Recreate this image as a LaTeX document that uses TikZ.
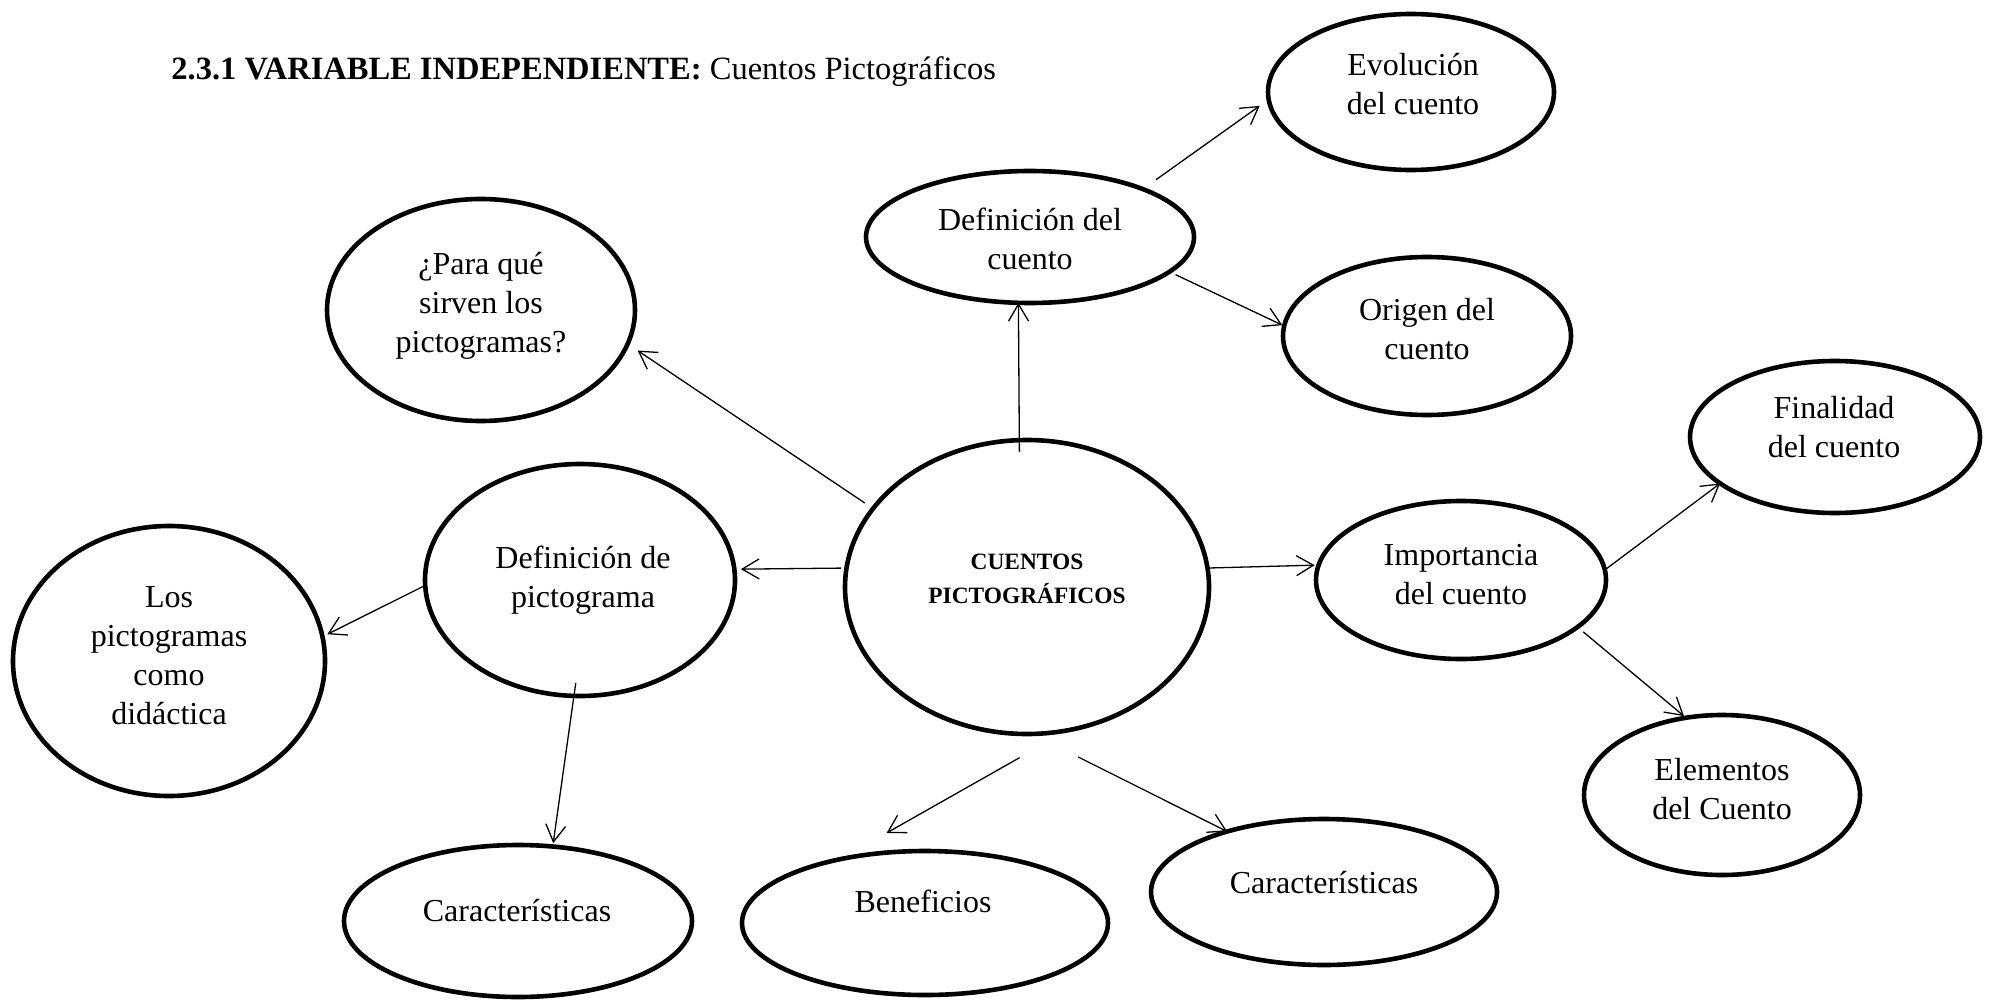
\documentclass[tikz,border=0pt]{standalone}
\usepackage{fontspec}
\setmainfont{Liberation Serif}
\usetikzlibrary{shapes.geometric,arrows.meta}
\tikzset{
  bubble/.style={draw, ellipse, line width=2.3pt, inner sep=0pt, outer sep=0pt},
  lbl/.style={inner sep=0pt, outer sep=0pt, font=\fontsize{16}{19.5}\selectfont},
  arr/.style={line width=0.65pt, -{Straight Barb[length=8.5pt,width=10pt]}}
}
\newcommand{\lines}[1]{\begin{tabular}[t]{@{}c@{}}#1\end{tabular}}
\begin{document}
\begin{tikzpicture}[x=0.5pt,y=-0.5pt]
\useasboundingbox (0,0) rectangle (1989,1000);
% ellipses
\node[bubble, minimum width=182pt, minimum height=147pt] (central) at (1027,587) {};
\node[bubble, minimum width=154pt, minimum height=111pt] (para) at (481,310) {};
\node[bubble, minimum width=164pt, minimum height=66pt] (defcuento) at (1030,237) {};
\node[bubble, minimum width=143pt, minimum height=78pt] (evol) at (1411,92) {};
\node[bubble, minimum width=144pt, minimum height=79pt] (origen) at (1427,336) {};
\node[bubble, minimum width=145pt, minimum height=76pt] (final) at (1835,437) {};
\node[bubble, minimum width=145pt, minimum height=79pt] (import) at (1461,580) {};
\node[bubble, minimum width=138pt, minimum height=80pt] (elem) at (1722,795) {};
\node[bubble, minimum width=173pt, minimum height=73pt] (carR) at (1324,892) {};
\node[bubble, minimum width=183pt, minimum height=72pt] (benef) at (925,923) {};
\node[bubble, minimum width=174pt, minimum height=76pt] (carL) at (518,921) {};
\node[bubble, minimum width=155pt, minimum height=116pt] (defpicto) at (580,580) {};
\node[bubble, minimum width=156pt, minimum height=135pt] (los) at (169,661) {};
% texts
\node[inner sep=0pt, font=\fontsize{16.25}{19.5}\selectfont, anchor=base west] (title) at (171,80) {\textbf{2.3.1 VARIABLE INDEPENDIENTE:} Cuentos Pictográficos};
\node[inner sep=0pt, font=\fontsize{11.7}{17}\selectfont\bfseries, anchor=base] (tcentral) at (1027,569) {\lines{CUENTOS\\PICTOGRÁFICOS}};
\node[lbl, anchor=base] (tpara) at (481,274) {\lines{¿Para qué\\sirven los\\pictogramas?}};
\node[lbl, anchor=base] (tdefcuento) at (1030,230) {\lines{Definición del\\cuento}};
\node[lbl, anchor=base] (tevol) at (1413,76) {\lines{Evolución\\del cuento}};
\node[lbl, anchor=base] (torigen) at (1427,320) {\lines{Origen del\\cuento}};
\node[lbl, anchor=base] (tfinal) at (1834,418) {\lines{Finalidad\\del cuento}};
\node[lbl, anchor=base] (timport) at (1461,565) {\lines{Importancia\\del cuento}};
\node[lbl, anchor=base] (telem) at (1722,780) {\lines{Elementos\\del Cuento}};
\node[lbl, anchor=base] (tcarR) at (1324,893) {Características};
\node[lbl, anchor=base] (tbenef) at (923,912) {Beneficios};
\node[lbl, anchor=base] (tcarL) at (517,921) {Características};
\node[lbl, anchor=base] (tdefpicto) at (583,568) {\lines{Definición de\\pictograma}};
\node[lbl, anchor=base] (tlos) at (169,607) {\lines{Los\\pictogramas\\como\\didáctica}};
% connectors
\draw[arr, shorten <=5pt, shorten >=6pt] (central.153.4) -- (para.-13.7);
\draw[arr, shorten <=-6pt] (central.93.5) -- (defcuento.-100.3);
\draw[arr, shorten <=8pt, shorten >=5.5pt] (defcuento.23) -- (evol.183.9);
\draw[arr, shorten <=3.4pt, shorten >=1pt] (defcuento.-14.2) -- (origen.176);
\draw[arr, shorten >=2pt] (central.6.33) -- (import.174.8);
\draw[arr] (import.4.7) -- (final.202.6);
\draw[arr, shorten <=3.75pt, shorten >=1.3pt] (import.-22.1) -- (elem.115);
\draw[arr, shorten <=25.75pt] (central.-88.1) -- (carR.148);
\draw[arr, shorten <=27.85pt, shorten >=26.6pt] (central.-74.6) -- (benef.143.3);
\draw[arr, shorten <=2.7pt, shorten >=3.3pt] (central.174.3) -- (defpicto.4.1);
\draw[arr, shorten <=0.7pt, shorten >=2.75pt] (defpicto.182.7) -- (los.9.9);
\draw[arr, shorten <=-6.6pt, shorten >=1.7pt] (defpicto.267.5) -- (carL.65.8);
\end{tikzpicture}
\end{document}
